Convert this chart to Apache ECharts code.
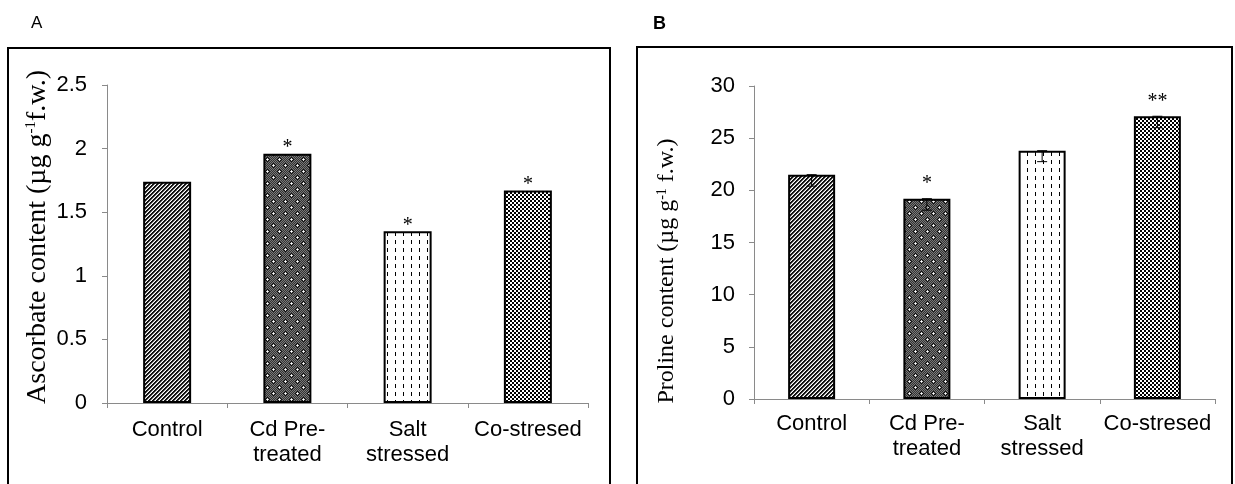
<!DOCTYPE html>
<html>
<head>
<meta charset="utf-8">
<script src="https://cdn.jsdelivr.net/npm/echarts@6/dist/echarts.min.js"></script>
<style>
  html, body { margin: 0; padding: 0; background: #fff; }
  #main { width: 1235px; height: 484px; }
</style>
</head>
<body>
<div id="main"></div>
<script>
// data
var categories = ['Control', 'Cd Pre-\ntreated', 'Salt\nstressed', 'Co-stresed'];
var ascorbate = [1.74, 1.96, 1.35, 1.67];
var ascorbateSig = ['', '*', '*', '*'];
var proline = [21.5, 19.2, 23.8, 27.1];
var prolineErr = [1.1, 1.1, 1.05, 1.1];
var prolineSig = ['', '*', '', '**'];
var ascorbateTicks = { min: 0, max: 2.5, interval: 0.5 };
var prolineTicks = { min: 0, max: 30, interval: 5 };

// fill patterns (one per treatment)
function makeTile(w, h, fn) {
    var c = document.createElement('canvas');
    c.width = w; c.height = h;
    var ctx = c.getContext('2d');
    for (var y = 0; y < h; y++) {
        for (var x = 0; x < w; x++) {
            ctx.fillStyle = fn(x, y);
            ctx.fillRect(x, y, 1, 1);
        }
    }
    return { image: c, repeat: 'repeat' };
}
var patterns = [
    // upward diagonal
    makeTile(4, 4, function (x, y) {
        var k = (x + y) % 4;
        return k < 2 ? '#111' : (k == 2 ? '#999' : '#fff');
    }),
    // dark gray with light dots
    makeTile(12, 12, function (x, y) {
        var dots = [[3, 3], [9, 9]];
        for (var i = 0; i < dots.length; i++) {
            var dx = Math.abs(x - dots[i][0]), dy = Math.abs(y - dots[i][1]);
            if (dx + dy == 0) return '#fff';
            if (dx + dy == 1) return '#ccc';
            if (dx + dy == 2) return '#111';
        }
        return (x + y) % 2 ? '#333' : '#777';
    }),
    // vertical dashes
    makeTile(8, 8, function (x, y) {
        return (x == 3 && y < 4) ? '#000' : '#fff';
    }),
    // small checker
    makeTile(4, 4, function (x, y) {
        return ((x >> 1) + (y >> 1)) % 2 ? '#000' : '#fff';
    })
];

var axisGray = '#8a8a8a';
var tickFont = { color: '#000', fontSize: 22, fontFamily: 'Liberation Sans' };

function barData(vals) {
    return vals.map(function (v, i) {
        return { value: v, itemStyle: { color: patterns[i] } };
    });
}

var chart = echarts.init(document.getElementById('main'));

var option = {
    animation: false,
    backgroundColor: '#fff',
    title: [
        { text: 'A', left: 26, top: 10, textStyle: { fontSize: 17, fontWeight: 'normal', fontFamily: 'Liberation Sans', color: '#000' } },
        { text: 'B', left: 648, top: 10, textStyle: { fontSize: 18, fontWeight: 'bold', fontFamily: 'Liberation Sans', color: '#000' } }
    ],
    graphic: [
        { type: 'rect', shape: { x: 8, y: 48, width: 602, height: 470 }, style: { fill: 'none', stroke: '#000', lineWidth: 2 } },
        { type: 'rect', shape: { x: 637, y: 47, width: 595, height: 470 }, style: { fill: 'none', stroke: '#000', lineWidth: 2 } },
        {
            type: 'text', x: 38, y: 237, rotation: Math.PI / 2,
            style: {
                text: 'Ascorbate content (µg g{sup|-1}f.w.)',
                fontSize: 28, fontFamily: 'Liberation Serif', fill: '#000',
                align: 'center', verticalAlign: 'middle',
                rich: { sup: { fontSize: 15, fontFamily: 'Liberation Serif', verticalAlign: 'top', fill: '#000' } }
            }
        },
        {
            type: 'text', x: 667, y: 271, rotation: Math.PI / 2,
            style: {
                text: 'Proline content (µg g{sup|-1} f.w.)',
                fontSize: 24, fontFamily: 'Liberation Serif', fill: '#000',
                align: 'center', verticalAlign: 'middle',
                rich: { sup: { fontSize: 14, fontFamily: 'Liberation Serif', verticalAlign: 'top', fill: '#000' } }
            }
        }
    ],
    grid: [
        { left: 107, top: 85, width: 481, height: 318 },
        { left: 754, top: 86, width: 461, height: 313 }
    ],
    xAxis: [0, 1].map(function (g) {
        return {
            type: 'category',
            gridIndex: g,
            data: categories,
            axisLine: { lineStyle: { color: axisGray, width: 1 } },
            axisTick: { show: true, length: 5, lineStyle: { color: axisGray } },
            axisLabel: {
                interval: 0, margin: g ? 12 : 14, lineHeight: 25, align: 'center',
                color: tickFont.color, fontSize: tickFont.fontSize, fontFamily: tickFont.fontFamily
            },
            splitLine: { show: false }
        };
    }),
    yAxis: [
        {
            type: 'value', gridIndex: 0,
            min: ascorbateTicks.min, max: ascorbateTicks.max, interval: ascorbateTicks.interval,
            axisLine: { show: true, lineStyle: { color: axisGray, width: 1 } },
            axisTick: { show: true, length: 5, lineStyle: { color: axisGray } },
            axisLabel: {
                margin: 20, color: tickFont.color, fontSize: tickFont.fontSize, fontFamily: tickFont.fontFamily,
                formatter: function (v) { return String(v); }
            },
            splitLine: { show: false }
        },
        {
            type: 'value', gridIndex: 1,
            min: prolineTicks.min, max: prolineTicks.max, interval: prolineTicks.interval,
            axisLine: { show: true, lineStyle: { color: axisGray, width: 1 } },
            axisTick: { show: true, length: 5, lineStyle: { color: axisGray } },
            axisLabel: { margin: 19, color: tickFont.color, fontSize: tickFont.fontSize, fontFamily: tickFont.fontFamily },
            splitLine: { show: false }
        }
    ],
    series: [
        {
            type: 'bar', xAxisIndex: 0, yAxisIndex: 0,
            barWidth: 48,
            data: barData(ascorbate),
            itemStyle: { borderColor: '#000', borderWidth: 2 },
            label: {
                show: true, position: 'top', distance: 0,
                formatter: function (p) { return ascorbateSig[p.dataIndex]; },
                fontSize: 20, lineHeight: 12, fontFamily: 'Liberation Serif', color: '#000'
            }
        },
        {
            type: 'bar', xAxisIndex: 1, yAxisIndex: 1,
            barWidth: 47,
            data: barData(proline),
            itemStyle: { borderColor: '#000', borderWidth: 2 },
            label: {
                show: true, position: 'top', distance: 9,
                formatter: function (p) { return prolineSig[p.dataIndex]; },
                fontSize: 20, lineHeight: 12, fontFamily: 'Liberation Serif', color: '#000'
            }
        },
        {
            // minus error bars
            type: 'custom', xAxisIndex: 1, yAxisIndex: 1, z: 5,
            data: proline.map(function (v, i) { return [i, v, v - prolineErr[i]]; }),
            renderItem: function (params, api) {
                var hi = api.coord([api.value(0), api.value(1)]);
                var lo = api.coord([api.value(0), api.value(2)]);
                var w = 5;
                var st = { stroke: '#000', lineWidth: 1 };
                return {
                    type: 'group',
                    children: [
                        { type: 'line', shape: { x1: hi[0], y1: hi[1], x2: lo[0], y2: lo[1] }, style: st },
                        { type: 'line', shape: { x1: hi[0] - w, y1: hi[1], x2: hi[0] + w, y2: hi[1] }, style: st },
                        { type: 'line', shape: { x1: lo[0] - w, y1: lo[1], x2: lo[0] + w, y2: lo[1] }, style: st }
                    ]
                };
            }
        }
    ]
};
chart.setOption(option);
</script>
</body>
</html>
